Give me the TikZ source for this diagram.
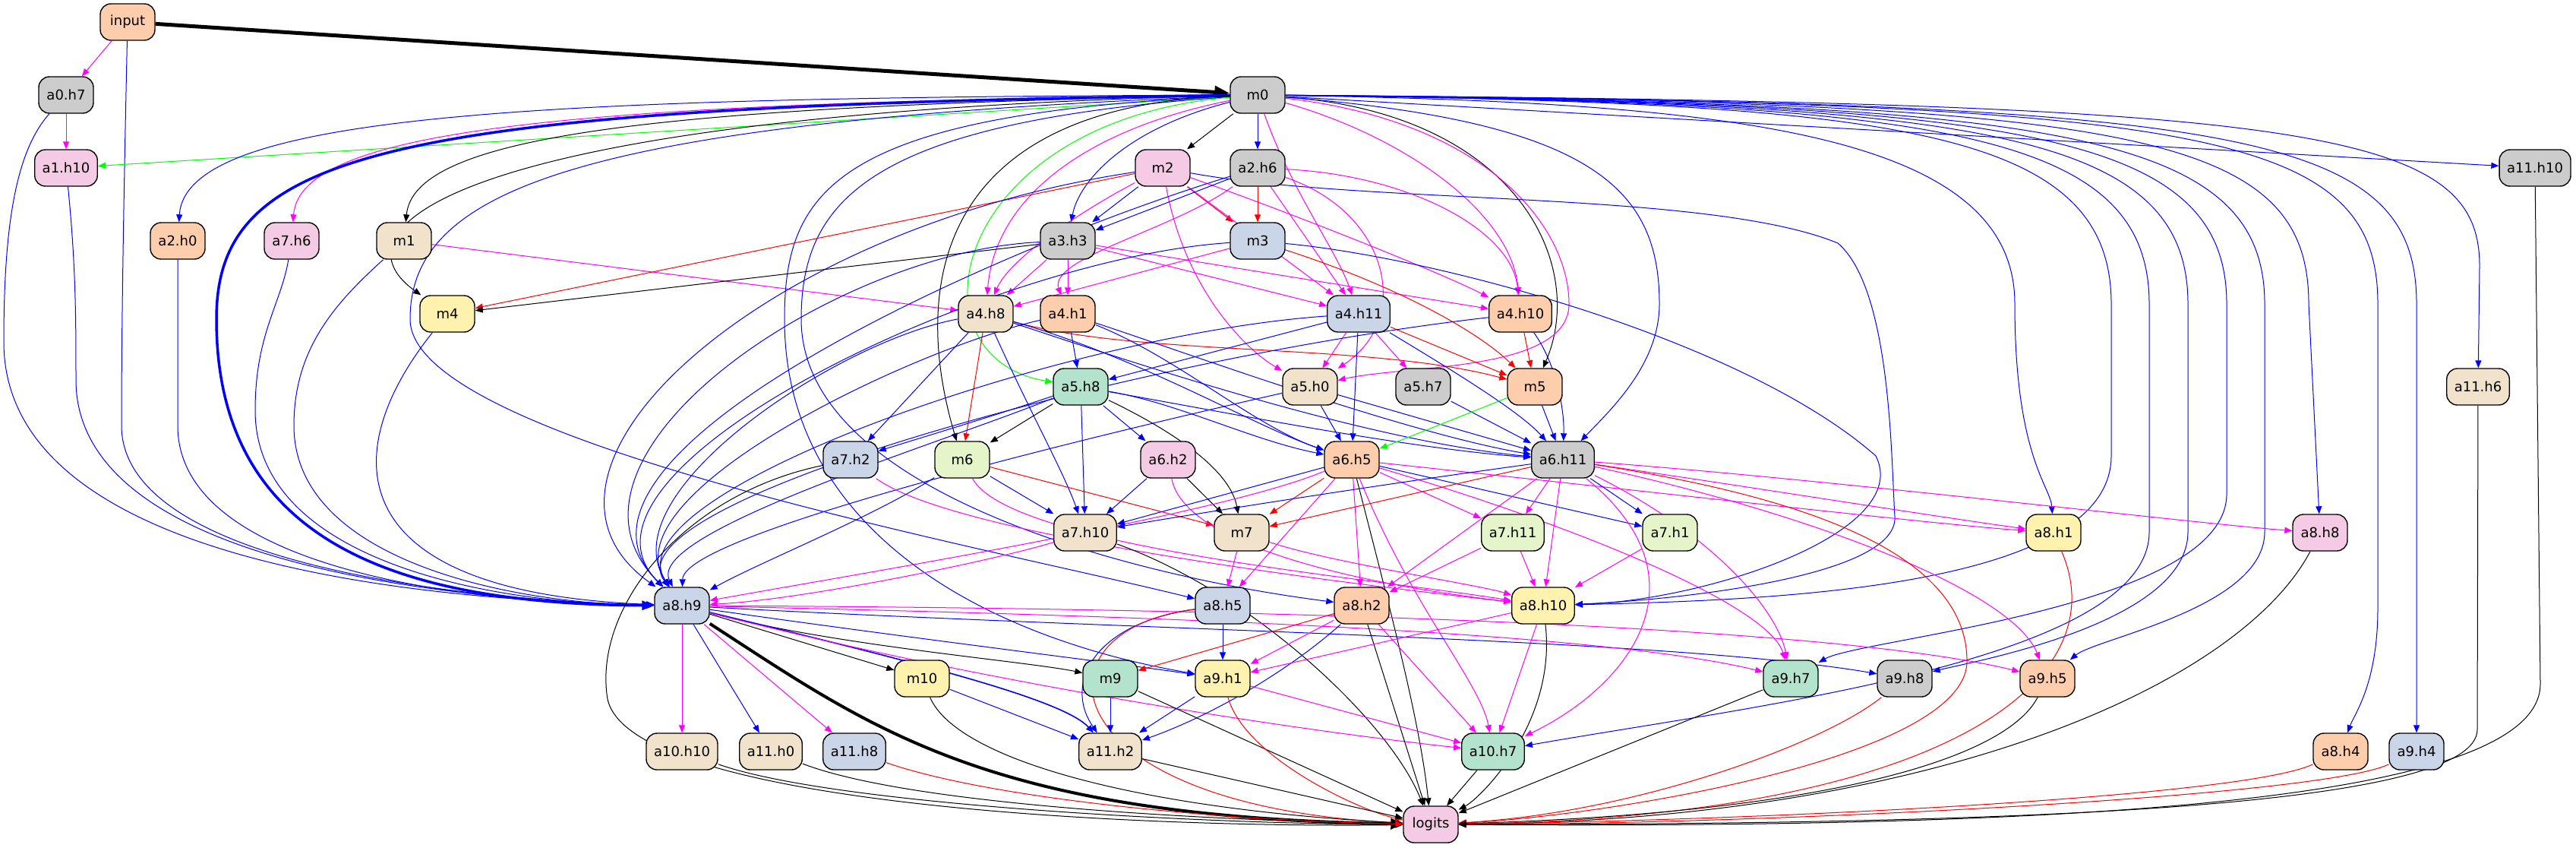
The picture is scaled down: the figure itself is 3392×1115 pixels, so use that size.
\documentclass[tikz,border=0pt]{standalone}
\usepackage{fontspec}
\setmainfont{DejaVu Sans}
\usetikzlibrary{arrows.meta}
\pgfdeclarelayer{bg}
\pgfsetlayers{bg,main}
\definecolor{cgrey}{HTML}{CCCCCC}
\definecolor{cpeach}{HTML}{FDCDAC}
\definecolor{cblue}{HTML}{CBD5E8}
\definecolor{cpink}{HTML}{F4CAE4}
\definecolor{cgreen}{HTML}{E6F5C9}
\definecolor{cyellow}{HTML}{FFF2AE}
\definecolor{cbeige}{HTML}{F1E2CC}
\definecolor{cmint}{HTML}{B3E2CD}
\definecolor{lmag}{RGB}{255,0,255}
\definecolor{lblue}{RGB}{0,0,255}
\definecolor{lred}{RGB}{255,0,0}
\definecolor{lgreen}{RGB}{0,255,0}
\tikzset{
 nd/.style={draw, rounded corners=7pt, minimum width=36pt, minimum height=24pt, inner xsep=5pt, line width=0.7pt, font=\fontsize{9}{10}\selectfont},
 ed/.style={line width=0.5pt, -{Triangle[length=5pt,width=4pt]}},
 ek/.style={ed, black}, eb/.style={ed, lblue}, em/.style={ed, lmag}, er/.style={ed, lred}, eg/.style={ed, lgreen},
}
\begin{document}
\begin{tikzpicture}[x=0.5pt,y=-0.5pt]
\useasboundingbox (0,0) rectangle (3392,1115);
\node[nd,fill=cpeach] (input) at (168,29) {input};
\node[nd,fill=cgrey] (m0) at (1656,125) {m0};
\node[nd,fill=cgrey] (a0h7) at (87,125) {a0.h7};
\node[nd,fill=cpink] (a1h10) at (87,221) {a1.h10};
\node[nd,fill=cpink] (m2) at (1531,221) {m2};
\node[nd,fill=cgrey] (a2h6) at (1656,221) {a2.h6};
\node[nd,fill=cgrey] (a11h10) at (3338,221) {a11.h10};
\node[nd,fill=cpeach] (a2h0) at (234,317) {a2.h0};
\node[nd,fill=cpink] (a7h6) at (384,317) {a7.h6};
\node[nd,fill=cbeige] (m1) at (532,317) {m1};
\node[nd,fill=cgrey] (a3h3) at (1406,317) {a3.h3};
\node[nd,fill=cblue] (m3) at (1656,317) {m3};
\node[nd,fill=cyellow] (m4) at (589,413) {m4};
\node[nd,fill=cbeige] (a4h8) at (1298,413) {a4.h8};
\node[nd,fill=cpeach] (a4h1) at (1406,413) {a4.h1};
\node[nd,fill=cblue] (a4h11) at (1789,413) {a4.h11};
\node[nd,fill=cpeach] (a4h10) at (2002,413) {a4.h10};
\node[nd,fill=cmint] (a5h8) at (1423,509) {a5.h8};
\node[nd,fill=cbeige] (a5h0) at (1725,509) {a5.h0};
\node[nd,fill=cgrey] (a5h7) at (1874,509) {a5.h7};
\node[nd,fill=cpeach] (m5) at (2021,509) {m5};
\node[nd,fill=cbeige] (a11h6) at (3263,509) {a11.h6};
\node[nd,fill=cblue] (a7h2) at (1120,605) {a7.h2};
\node[nd,fill=cgreen] (m6) at (1267,605) {m6};
\node[nd,fill=cpink] (a6h2) at (1538,605) {a6.h2};
\node[nd,fill=cpeach] (a6h5) at (1780,605) {a6.h5};
\node[nd,fill=cgrey] (a6h11) at (2058,605) {a6.h11};
\node[nd,fill=cbeige] (a7h10) at (1429,701) {a7.h10};
\node[nd,fill=cbeige] (m7) at (1635,701) {m7};
\node[nd,fill=cgreen] (a7h11) at (1992,701) {a7.h11};
\node[nd,fill=cgreen] (a7h1) at (2199,701) {a7.h1};
\node[nd,fill=cyellow] (a8h1) at (2704,701) {a8.h1};
\node[nd,fill=cpink] (a8h8) at (3055,701) {a8.h8};
\node[nd,fill=cblue] (a8h9) at (898,797) {a8.h9};
\node[nd,fill=cblue] (a8h5) at (1610,797) {a8.h5};
\node[nd,fill=cpeach] (a8h2) at (1793,797) {a8.h2};
\node[nd,fill=cyellow] (a8h10) at (2032,797) {a8.h10};
\node[nd,fill=cyellow] (m10) at (1214,893) {m10};
\node[nd,fill=cmint] (m9) at (1462,893) {m9};
\node[nd,fill=cyellow] (a9h1) at (1610,893) {a9.h1};
\node[nd,fill=cmint] (a9h7) at (2358,893) {a9.h7};
\node[nd,fill=cgrey] (a9h8) at (2508,893) {a9.h8};
\node[nd,fill=cpeach] (a9h5) at (2696,893) {a9.h5};
\node[nd,fill=cbeige] (a10h10) at (898,989) {a10.h10};
\node[nd,fill=cbeige] (a11h0) at (1015,989) {a11.h0};
\node[nd,fill=cblue] (a11h8) at (1125,989) {a11.h8};
\node[nd,fill=cbeige] (a11h2) at (1462,989) {a11.h2};
\node[nd,fill=cmint] (a10h7) at (1966,989) {a10.h7};
\node[nd,fill=cpeach] (a8h4) at (3082,989) {a8.h4};
\node[nd,fill=cblue] (a9h4) at (3182,989) {a9.h4};
\node[nd,fill=cpink] (logits) at (1884,1085) {logits};

\begin{pgfonlayer}{bg}
% input
\draw[ek, line width=2.5pt, -{Triangle[length=10pt,width=8pt]}] (input) -- (m0);
\draw[em] (input) -- (a0h7);
\draw[eb] (input) .. controls (162,300) and (160,450) .. (160,560) .. controls (160,740) and (600,790) .. (a8h9);
% a0.h7 a1.h10 a2.h0 a7.h6 m1 m4
\draw[em] (a0h7) -- (a1h10);
\draw[eb] (a0h7) .. controls (20,200) and (5,300) .. (5,450) .. controls (5,740) and (550,790) .. (a8h9);
\draw[eb] (a1h10) .. controls (100,350) and (100,420) .. (100,500) .. controls (100,740) and (580,790) .. (a8h9);
\draw[eb] (a2h0) .. controls (234,450) and (234,500) .. (234,560) .. controls (234,750) and (620,795) .. (a8h9);
\draw[eb] (a7h6) .. controls (370,400) and (336,440) .. (336,540) .. controls (336,740) and (650,795) .. (a8h9);
\draw[eb] (m1) .. controls (440,400) and (387,460) .. (387,560) .. controls (387,740) and (680,795) .. (a8h9);
\draw[em] (m1) -- (a4h8);
\draw[eb] (m4) .. controls (440,600) and (450,780) .. (a8h9);
% m0
\draw[eg] (m0) -- (a1h10);
\draw[eb] (m0) .. controls (700,128) and (245,150) .. (a2h0);
\draw[em] (m0) .. controls (750,135) and (395,170) .. (a7h6);
\draw[ek] (m0) .. controls (850,140) and (545,180) .. (m1);
\draw[ek] (m0) .. controls (600,150) and (430,300) .. (m4);
\draw[eb, line width=1.75pt, -{Triangle[length=8pt,width=6pt]}] (m0) .. controls (500,140) and (285,200) .. (285,420) .. controls (285,700) and (500,795) .. (a8h9);
\draw[eb] (m0) .. controls (760,160) and (540,250) .. (540,420) .. controls (540,580) and (1300,720) .. (a8h5);
\draw[eb] (m0) .. controls (1100,150) and (1033,250) .. (1033,420) .. controls (1033,700) and (1300,840) .. (a9h1);
\draw[eb] (m0) .. controls (1150,160) and (1055,260) .. (1055,420) .. controls (1055,650) and (1500,760) .. (a8h2);
\draw[ek] (m0) -- (m2);
\draw[eb] (m0) -- (a2h6);
\draw[eb] (m0) .. controls (1480,170) and (1420,240) .. (a3h3);
\draw[ek] (m0) .. controls (1230,140) and (1200,380) .. (m6);
\draw[eg] (m0) .. controls (1250,160) and (1190,470) .. (a5h8);
\draw[em] (m0) .. controls (1430,170) and (1310,260) .. (a4h8);
\draw[em] (m0) .. controls (1700,250) and (1760,330) .. (a4h11);
\draw[em] (m0) .. controls (1850,180) and (1990,280) .. (a4h10);
\draw[ek] (m0) .. controls (2000,150) and (2090,350) .. (m5);
\draw[em] (m0) .. controls (1960,160) and (2066,300) .. (2066,400) .. controls (2066,490) and (1850,480) .. (a5h0);
\draw[eb] (m0) .. controls (2100,160) and (2185,250) .. (2185,400) .. controls (2185,480) and (2120,540) .. (a6h11);
\draw[eb] (m0) .. controls (2300,135) and (2653,180) .. (2653,400) .. controls (2653,600) and (2700,640) .. (a8h1);
\draw[eb] (m0) .. controls (2500,135) and (2780,170) .. (2780,400) -- (2780,600) .. controls (2780,780) and (2300,790) .. (a8h10);
\draw[eb] (m0) .. controls (2550,135) and (2830,170) .. (2830,400) -- (2830,700) .. controls (2830,870) and (2300,930) .. (a10h7);
\draw[eb] (m0) .. controls (2600,135) and (2881,170) .. (2881,400) -- (2881,700) .. controls (2881,820) and (2600,870) .. (a9h8);
\draw[eb] (m0) .. controls (2650,135) and (2932,170) .. (2932,400) -- (2932,650) .. controls (2932,800) and (2450,840) .. (a9h7);
\draw[eb] (m0) .. controls (2700,135) and (2982,170) .. (2982,400) -- (2982,700) .. controls (2982,800) and (2760,840) .. (a9h5);
\draw[eb] (m0) .. controls (2800,135) and (3040,170) .. (3040,400) -- (a8h8);
\draw[eb] (m0) .. controls (2900,135) and (3131,170) .. (3131,400) -- (3131,800) .. controls (3131,900) and (3100,940) .. (a8h4);
\draw[eb] (m0) .. controls (2950,135) and (3182,170) .. (3182,400) -- (a9h4);
\draw[eb] (m0) .. controls (3050,135) and (3265,170) .. (3265,350) -- (a11h6);
\draw[eb] (m0) -- (a11h10);
% m2
\draw[er] (m2) -- (m3);
\draw[eb] (m2) -- (a3h3);
\draw[er] (m2) -- (m4);
\draw[eb] (m2) .. controls (1000,300) and (650,620) .. (a8h9);
\draw[em] (m2) .. controls (1420,280) and (1330,340) .. (a4h8);
\draw[em] (m2) .. controls (1560,380) and (1640,460) .. (a5h0);
\draw[em] (m2) -- (a4h11);
\draw[em] (m2) .. controls (1700,280) and (1900,360) .. (a4h10);
\draw[eb] (m2) .. controls (1800,270) and (2250,250) .. (2420,320) .. controls (2490,380) and (2490,600) .. (2495,680) .. controls (2500,760) and (2200,790) .. (a8h10);
% a2.h6
\draw[eb] (a2h6) -- (a3h3);
\draw[er] (a2h6) -- (m3);
\draw[eb] (a2h6) .. controls (1300,330) and (700,600) .. (a8h9);
\draw[em] (a2h6) .. controls (1550,300) and (1380,340) .. (a4h1);
\draw[em] (a2h6) -- (a4h11);
\draw[em] (a2h6) .. controls (1850,230) and (1990,300) .. (a4h10);
\draw[em] (a2h6) .. controls (1830,280) and (1860,420) .. (a5h0);
% a3.h3
\draw[ek] (a3h3) -- (m4);
\draw[eb] (a3h3) .. controls (1100,330) and (700,600) .. (a8h9);
\draw[em] (a3h3) -- (a4h8);
\draw[em] (a3h3) -- (a4h1);
\draw[em] (a3h3) -- (a4h11);
\draw[em] (a3h3) -- (a4h10);
% m3
\draw[eb] (m3) .. controls (1300,340) and (720,620) .. (a8h9);
\draw[em] (m3) -- (a4h8);
\draw[er] (m3) .. controls (1850,380) and (1950,440) .. (m5);
\draw[eb] (m3) .. controls (1900,340) and (2300,450) .. (2470,600) .. controls (2520,700) and (2250,790) .. (a8h10);
% a4.h8
\draw[eb] (a4h8) .. controls (1100,450) and (800,650) .. (a8h9);
\draw[eb] (a4h8) -- (a7h2);
\draw[er] (a4h8) -- (m6);
\draw[eb] (a4h8) .. controls (1360,550) and (1400,620) .. (a7h10);
\draw[er] (a4h8) .. controls (1500,470) and (1800,450) .. (m5);
\draw[eb] (a4h8) .. controls (1500,470) and (1650,560) .. (a6h5);
\draw[eb] (a4h8) .. controls (1500,480) and (1800,580) .. (a6h11);
% a4.h1
\draw[eb] (a4h1) .. controls (1200,460) and (800,650) .. (a8h9);
\draw[eb] (a4h1) -- (a5h8);
\draw[eb] (a4h1) .. controls (1550,470) and (1650,560) .. (a6h5);
\draw[eb] (a4h1) .. controls (1550,460) and (1850,570) .. (a6h11);
% a4.h11
\draw[eb] (a4h11) .. controls (1400,440) and (800,650) .. (a8h9);
\draw[eb] (a4h11) -- (a5h8);
\draw[em] (a4h11) -- (a5h0);
\draw[eb] (a4h11) -- (a6h5);
\draw[em] (a4h11) -- (a5h7);
\draw[er] (a4h11) -- (m5);
\draw[eb] (a4h11) .. controls (1900,480) and (2000,540) .. (a6h11);
% a4.h10
\draw[er] (a4h10) -- (m5);
\draw[eb] (a4h10) .. controls (2050,480) and (2060,540) .. (a6h11);
\draw[eb] (a4h10) .. controls (1500,470) and (800,660) .. (a8h9);
% a5.h8
\draw[ek] (a5h8) -- (m6);
\draw[eb] (a5h8) .. controls (1300,550) and (1200,580) .. (a7h2);
\draw[eb] (a5h8) -- (a6h2);
\draw[eb] (a5h8) -- (a7h10);
\draw[ek] (a5h8) .. controls (1550,570) and (1620,620) .. (m7);
\draw[eb] (a5h8) .. controls (1550,530) and (1650,580) .. (a6h5);
\draw[eb] (a5h8) .. controls (1600,540) and (1850,590) .. (a6h11);
\draw[eb] (a5h8) .. controls (1250,580) and (850,700) .. (a8h9);
% a5.h0 a5.h7 m5
\draw[eb] (a5h0) -- (a6h5);
\draw[eb] (a5h0) -- (a6h11);
\draw[eb] (a5h0) .. controls (1500,560) and (900,700) .. (a8h9);
\draw[eb] (a5h7) -- (a6h11);
\draw[eg] (m5) -- (a6h5);
\draw[eb] (m5) -- (a6h11);
% a7.h2
\draw[ek] (a7h2) .. controls (900,650) and (780,800) .. (800,920) .. controls (830,1060) and (1500,1090) .. (logits);
\draw[em] (a7h2) .. controls (1250,700) and (1700,760) .. (a8h10);
% m6
\draw[eb] (m6) -- (a7h10);
\draw[er] (m6) -- (m7);
\draw[eb] (m6) .. controls (1150,680) and (1000,740) .. (a8h9);
\draw[em] (m6) .. controls (1330,720) and (1800,760) .. (a8h10);
% a6.h2
\draw[ek] (a6h2) -- (m7);
\draw[eb] (a6h2) -- (a7h10);
\draw[em] (a6h2) .. controls (1560,720) and (1800,770) .. (a8h10);
% a6.h5
\draw[eb] (a6h5) -- (a7h10);
\draw[er] (a6h5) -- (m7);
\draw[em] (a6h5) -- (a7h11);
\draw[eb] (a6h5) -- (a7h1);
\draw[em] (a6h5) .. controls (2200,650) and (2550,690) .. (a8h1);
\draw[ek] (a6h5) .. controls (1830,800) and (1870,950) .. (logits);
\draw[em] (a6h5) -- (a8h5);
\draw[em] (a6h5) -- (a8h2);
\draw[em] (a6h5) .. controls (1860,800) and (1950,900) .. (a10h7);
\draw[em] (a6h5) .. controls (2100,700) and (2330,800) .. (a9h7);
\draw[em] (a6h5) .. controls (1600,680) and (1100,760) .. (a8h9);
% a6.h11
\draw[eb] (a6h11) .. controls (1800,640) and (1550,680) .. (a7h10);
\draw[er] (a6h11) -- (m7);
\draw[em] (a6h11) -- (a7h11);
\draw[eb] (a6h11) -- (a7h1);
\draw[em] (a6h11) -- (a8h10);
\draw[em] (a6h11) .. controls (2300,640) and (2550,680) .. (a8h1);
\draw[em] (a6h11) .. controls (2400,630) and (2900,690) .. (a8h8);
\draw[em] (a6h11) -- (a8h2);
\draw[em] (a6h11) .. controls (2250,700) and (2340,800) .. (a9h7);
\draw[em] (a6h11) .. controls (2400,680) and (2650,780) .. (a9h5);
\draw[em] (a6h11) .. controls (2250,760) and (2150,900) .. (a10h7);
\draw[er] (a6h11) .. controls (2350,650) and (2590,720) .. (2590,870) .. controls (2590,1000) and (2100,1075) .. (logits);
% m7 a7.h10 a7.h11 a7.h1
\draw[em] (m7) -- (a8h5);
\draw[em] (m7) .. controls (1750,740) and (1950,770) .. (a8h10);
\draw[em] (a7h10) .. controls (1300,740) and (1050,790) .. (a8h9);
\draw[ek] (a7h10) .. controls (1650,780) and (1830,950) .. (logits);
\draw[em] (a7h11) -- (a8h10);
\draw[em] (a7h11) -- (a8h2);
\draw[em] (a7h1) -- (a8h10);
% a8.h1 a8.h8
\draw[er] (a8h1) .. controls (2790,900) and (2550,1075) .. (logits);
\draw[ek] (a8h8) .. controls (2950,900) and (2550,1080) .. (logits);
% a8.h9
\draw[ek] (a8h9) -- (m10);
\draw[ek] (a8h9) .. controls (1100,850) and (1350,870) .. (m9);
\draw[ek, line width=2pt, -{Triangle[length=8pt,width=7pt]}] (a8h9) .. controls (1150,960) and (1300,1075) .. (logits);
\draw[em] (a8h9) -- (a10h10);
\draw[eb] (a8h9) -- (a11h0);
\draw[em] (a8h9) -- (a11h8);
\draw[eb, line width=0.8pt] (a8h9) .. controls (1200,870) and (1400,920) .. (a11h2);
\draw[eb] (a8h9) .. controls (1200,840) and (1450,870) .. (a9h1);
\draw[eb] (a8h9) .. controls (1500,830) and (2200,840) .. (a9h8);
\draw[em] (a8h9) .. controls (1500,810) and (2100,830) .. (a9h7);
\draw[em] (a8h9) .. controls (1600,800) and (2400,820) .. (a9h5);
\draw[em] (a8h9) .. controls (1300,900) and (1700,960) .. (a10h7);
% a8.h5
\draw[eb] (a8h5) -- (a9h1);
\draw[eb] (a8h5) .. controls (1440,820) and (1400,900) .. (a11h2);
\draw[er] (a8h5) .. controls (1350,830) and (1380,1060) .. (logits);
% a8.h2
\draw[er] (a8h2) -- (m9);
\draw[em] (a8h2) -- (a9h1);
\draw[eb] (a8h2) .. controls (1700,880) and (1600,940) .. (a11h2);
\draw[ek] (a8h2) -- (logits);
\draw[em] (a8h2) -- (a10h7);
% a8.h10
\draw[em] (a8h10) -- (a9h1);
\draw[em] (a8h10) -- (a10h7);
\draw[ek] (a8h10) .. controls (2050,950) and (1950,1050) .. (logits);
% row 9
\draw[eb] (m10) -- (a11h2);
\draw[ek] (m10) .. controls (1260,1000) and (1500,1065) .. (logits);
\draw[eb] (m9) -- (a11h2);
\draw[ek] (m9) -- (logits);
\draw[eb] (a9h1) -- (a11h2);
\draw[em] (a9h1) -- (a10h7);
\draw[er] (a9h1) .. controls (1640,1000) and (1800,1070) .. (logits);
\draw[ek] (a9h7) -- (logits);
\draw[er] (a9h8) .. controls (2400,980) and (2150,1070) .. (logits);
\draw[ek] (a9h5) .. controls (2640,1000) and (2400,1070) .. (logits);
% row 10
\draw[ek] (a10h10) .. controls (1100,1060) and (1600,1085) .. (logits);
\draw[ek] (a11h0) .. controls (1200,1060) and (1600,1080) .. (logits);
\draw[er] (a11h8) .. controls (1300,1050) and (1600,1080) .. (logits);
\draw[ek] (a11h2) -- (logits);
\draw[ek] (a10h7) -- (logits);
\draw[er] (a8h4) .. controls (2950,1050) and (2300,1080) .. (logits);
\draw[er] (a9h4) .. controls (3050,1050) and (2300,1085) .. (logits);
\draw[ek] (a11h6) -- (3262,960) .. controls (3262,1060) and (2700,1085) .. (logits);
\draw[ek] (a11h10) -- (3345,900) .. controls (3345,1060) and (2700,1090) .. (logits);
\end{pgfonlayer}
\end{tikzpicture}
\end{document}
